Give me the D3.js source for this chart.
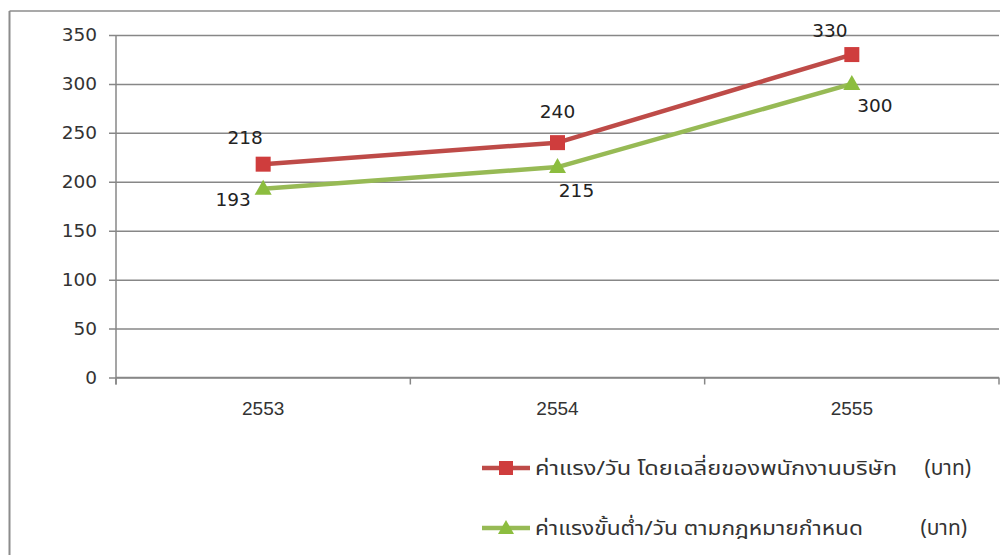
<!DOCTYPE html>
<html>
<head>
<meta charset="utf-8">
<script src="https://cdn.jsdelivr.net/npm/d3@7/dist/d3.min.js"></script>
<style>
  html, body { margin: 0; padding: 0; background: #fff; }
  svg { display: block; }
</style>
</head>
<body>
<svg id="chart" width="1000" height="555"></svg>
<script>
// Years (Buddhist era) along the x axis
const years = ["2553", "2554", "2555"];
// Average daily wage of company employees (baht)
const avgWage = [218, 240, 330];
// Legal minimum daily wage (baht)
const minWage = [193, 215, 300];
// Y axis ticks
const yTicks = [0, 50, 100, 150, 200, 250, 300, 350];
// Legend labels
const seriesNames = ["ค่าแรง/วัน  โดยเฉลี่ยของพนักงานบริษัท", "ค่าแรงขั้นต่ำ/วัน  ตามกฎหมายกำหนด"];
const unitLabel = "(บาท)";

const svg = d3.select("#chart");
const W = 1000, H = 555;

const plot = { left: 116, right: 999, top: 35, bottom: 377.5 };

const x = d3.scaleBand().domain(years).range([plot.left, plot.right]).padding(0);
const y = d3.scaleLinear().domain([0, 350]).range([plot.bottom, plot.top]);

const numFont = "'DejaVu Sans', Verdana, sans-serif";
const thaiFont = "Tahoma, 'Noto Sans Thai', 'Noto Sans Thai UI', 'Loma', 'Garuda', sans-serif";

// Outer chart border (top and left edges visible)
svg.append("line").attr("x1", 9.5).attr("x2", W).attr("y1", 11).attr("y2", 11)
  .attr("stroke", "#8c8c8c").attr("stroke-width", 1.5);
svg.append("line").attr("x1", 9.5).attr("x2", 9.5).attr("y1", 11).attr("y2", H)
  .attr("stroke", "#8c8c8c").attr("stroke-width", 2);

// Horizontal gridlines + y axis
const yAxis = d3.axisLeft(y).tickValues(yTicks).tickSize(-(plot.right - plot.left)).tickPadding(12);
const gy = svg.append("g").attr("transform", `translate(${plot.left},0)`).call(yAxis);
gy.select(".domain").remove();
gy.selectAll(".tick line").attr("stroke", "#878787").attr("stroke-width", 1.5).attr("x1", -7);
gy.selectAll(".tick text").attr("fill", "#333").style("font-family", numFont).style("font-size", "18.5px").attr("x", -19);

// Vertical axis line
svg.append("line").attr("x1", plot.left).attr("x2", plot.left).attr("y1", plot.top).attr("y2", plot.bottom + 7)
  .attr("stroke", "#878787").attr("stroke-width", 1.5);

// X axis with category boundary ticks
const boundaries = years.map(d => x(d)).concat([plot.right]);
const gx = svg.append("g");
gx.append("line").attr("x1", plot.left).attr("x2", plot.right).attr("y1", plot.bottom).attr("y2", plot.bottom)
  .attr("stroke", "#878787").attr("stroke-width", 1.5);
gx.selectAll("line.tk").data(boundaries).enter().append("line").attr("class", "tk")
  .attr("x1", d => d).attr("x2", d => d).attr("y1", plot.bottom).attr("y2", plot.bottom + 7)
  .attr("stroke", "#878787").attr("stroke-width", 1.5);
gx.selectAll("text").data(years).enter().append("text")
  .attr("x", d => x(d) + x.bandwidth() / 2).attr("y", 408).attr("dy", "0.35em")
  .attr("text-anchor", "middle").attr("fill", "#333")
  .style("font-family", "'Liberation Sans', Arial, sans-serif").style("font-size", "19px")
  .text(d => d);

const cx = d => x(d) + x.bandwidth() / 2;

const series = [
  { values: avgWage, line: "#be4b48", fill: "#cf3d3d", shape: "square",
    labelOff: [[-18, -27], [0, -31], [-22, -24]] },
  { values: minWage, line: "#97ba55", fill: "#8cbd3f", shape: "triangle",
    labelOff: [[-30, 11], [19, 23], [23, 22]] }
];

const lineGen = d3.line().x((v, i) => cx(years[i])).y(v => y(v));

series.forEach(s => {
  svg.append("path").attr("d", lineGen(s.values)).attr("fill", "none")
    .attr("stroke", s.line).attr("stroke-width", 4.5).attr("stroke-linejoin", "round");
});

series.forEach(s => {
  const g = svg.append("g");
  s.values.forEach((v, i) => {
    const px = cx(years[i]), py = y(v);
    if (s.shape === "square") {
      g.append("rect").attr("x", px - 7.5).attr("y", py - 7.5).attr("width", 15).attr("height", 15)
        .attr("fill", s.fill);
    } else {
      g.append("path").attr("d", `M${px},${py - 9} L${px + 8.5},${py + 6} L${px - 8.5},${py + 6} Z`)
        .attr("fill", s.fill);
    }
    g.append("text").attr("x", px + s.labelOff[i][0]).attr("y", py + s.labelOff[i][1]).attr("dy", "0.35em")
      .attr("text-anchor", "middle").attr("fill", "#222")
      .style("font-family", numFont).style("font-size", "18.5px").text(v);
  });
});

// Legend
const legendRows = [
  { name: seriesNames[0], s: series[0], y: 468, textW: 362, unitX: 971 },
  { name: seriesNames[1], s: series[1], y: 528, textW: 328, unitX: 967 }
];
legendRows.forEach(r => {
  const g = svg.append("g");
  g.append("line").attr("x1", 482).attr("x2", 530).attr("y1", r.y).attr("y2", r.y)
    .attr("stroke", r.s.line).attr("stroke-width", 4.5);
  if (r.s.shape === "square") {
    g.append("rect").attr("x", 506 - 7).attr("y", r.y - 7).attr("width", 14).attr("height", 14).attr("fill", r.s.fill);
  } else {
    g.append("path").attr("d", `M506,${r.y - 8} L${506 + 8},${r.y + 6} L${506 - 8},${r.y + 6} Z`).attr("fill", r.s.fill);
  }
  g.append("text").attr("x", 535).attr("y", r.y).attr("dy", "0.35em").attr("fill", "#333")
    .attr("textLength", r.textW).attr("lengthAdjust", "spacingAndGlyphs")
    .style("font-family", thaiFont).style("font-size", "20px").text(r.name);
  g.append("text").attr("x", r.unitX).attr("y", r.y).attr("dy", "0.35em").attr("fill", "#333")
    .attr("text-anchor", "end")
    .style("font-family", thaiFont).style("font-size", "21px").text(unitLabel);
});
</script>
</body>
</html>
